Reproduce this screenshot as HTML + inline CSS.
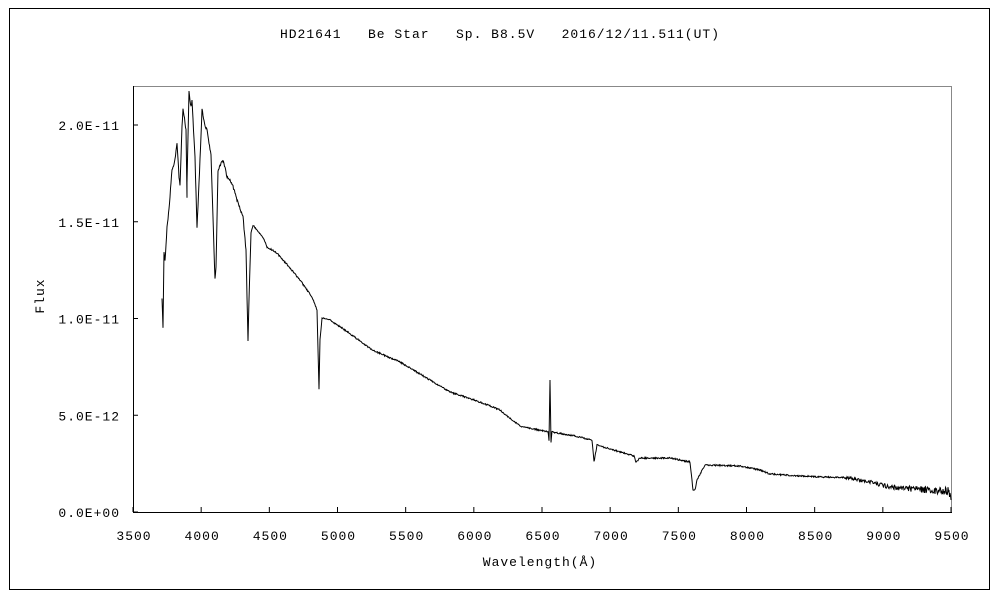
<!DOCTYPE html>
<html><head><meta charset="utf-8"><style>
body{margin:0;background:#fff}
svg text{font-family:"Liberation Mono","Noto Sans CJK JP",monospace;font-size:13px;letter-spacing:1px;fill:#000}
</style></head><body>
<svg id="s" width="1000" height="600" xmlns="http://www.w3.org/2000/svg">
<rect x="0" y="0" width="1000" height="600" fill="#fff"/>
<rect x="9.5" y="8.5" width="980" height="581" fill="none" stroke="#000"/>
<text x="500" y="38" text-anchor="middle" xml:space="preserve">HD21641   Be Star   Sp. B8.5V   2016/12/11.511(UT)</text>
<line x1="133" y1="86.5" x2="951" y2="86.5" stroke="#888"/>
<line x1="951.5" y1="86" x2="951.5" y2="512" stroke="#888"/>
<line x1="133.5" y1="86" x2="133.5" y2="512" stroke="#000"/>
<line x1="133" y1="512.5" x2="952" y2="512.5" stroke="#000"/>
<g id="ticks" stroke="#000"></g>
<g id="labels"></g>
<text x="540" y="566" text-anchor="middle">Wavelength(Å)</text>
<text transform="translate(44,296) rotate(-90)" text-anchor="middle">Flux</text>
<polyline id="spec" fill="none" stroke="#000" stroke-width="1"/>
</svg>
<script>
var ns="http://www.w3.org/2000/svg",t=document.getElementById('ticks'),L=document.getElementById('labels');
function el(p,tag,a,txt){var e=document.createElementNS(ns,tag);for(var k in a)e.setAttribute(k,a[k]);if(txt)e.textContent=txt;p.appendChild(e);}
for(var i=0;i<=12;i++){var x=133+i*818/12;el(t,'line',{x1:x,y1:512,x2:x,y2:507});el(L,'text',{x:x+1,y:540,'text-anchor':'middle'},String(3500+500*i));}
var yl=['0.0E+00','5.0E-12','1.0E-11','1.5E-11','2.0E-11'];
for(var j=0;j<5;j++){var y=512-j*96.75;el(t,'line',{x1:133,y1:y,x2:138,y2:y});el(L,'text',{x:120,y:y+5,'text-anchor':'end'},yl[j]);}
var P=[[162,300],[163,327],[164,252],[165,262],[167,227],[169,210],[172,170],[175,160],[177,142],[179,177],[180,185],[182,127],[183,108],[186,130],[187,197],[187,183],[189,92],[191,107],[192,100],[195,158],[197,228],[200,160],[202,110],[205,125],[207,130],[211,155],[214,250],[215,280],[216,267],[218,170],[222,162],[224,163],[227,177],[232,183],[235,193],[238,203],[243,217],[246,250],[248,342],[249,300],[251,233],[253,225],[257,230],[263,237],[267,247],[277,253],[283,260],[290,268],[300,280],[312,297],[317,310],[319,389],[320,340],[322,318],[330,320],[345,330],[372,350],[400,362],[430,380],[450,392],[480,402],[500,410],[512,420],[520,426],[548,432],[549,440],[550,380],[551,442],[552,432],[575,436],[592,440],[594,462],[597,445],[620,452],[634,456],[636,462],[640,458],[670,458],[690,462],[693,490],[695,490],[697,480],[705,465],[740,466],[760,470],[770,474],[800,476],[850,478],[870,482],[885,486],[900,488],[930,490],[949,491],[951,500]];
var s=1;function r(){s=(s*16807)%2147483647;return s/2147483647-0.5;}
var pts=[];
for(var k=0;k<P.length-1;k++){var a=P[k],b=P[k+1];var n=Math.max(1,Math.round((b[0]-a[0])*2));
for(var m=0;m<n;m++){var f=m/n,x=a[0]+(b[0]-a[0])*f,y=a[1]+(b[1]-a[1])*f;var amp=x>840?(x-840)/18+2:(x<250?3:1.5);pts.push(x.toFixed(1)+','+(y+r()*amp).toFixed(1));}}
pts.push(P[P.length-1].join(','));
document.getElementById('spec').setAttribute('points',pts.join(' '));
</script>
</body></html>
